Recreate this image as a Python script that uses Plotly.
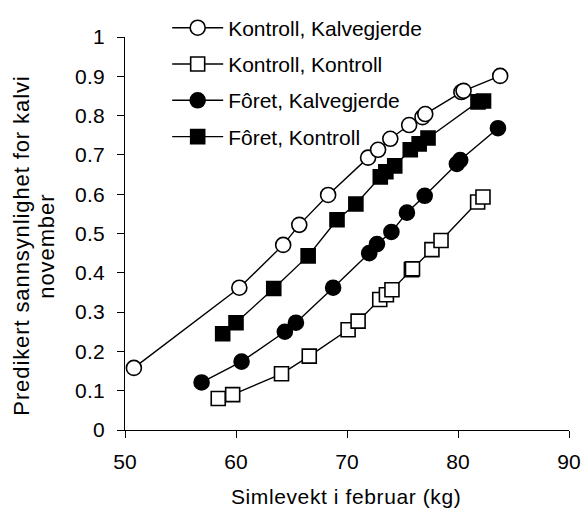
import plotly.graph_objects as go

# Kontroll, Kalvegjerde (open circles)
kk_x = [50.8, 60.3, 64.25, 65.7, 68.3, 71.9, 72.8, 73.9, 75.6, 76.8, 77.05, 80.3, 80.5, 83.8]
kk_y = [0.158, 0.362, 0.471, 0.522, 0.598, 0.693, 0.713, 0.741, 0.776, 0.796, 0.804, 0.860, 0.863, 0.901]

# Kontroll, Kontroll (open squares)
kc_x = [58.4, 59.7, 64.1, 66.6, 70.1, 71.0, 72.95, 73.55, 74.05, 75.8, 75.9, 77.65, 78.47, 81.77, 82.25]
kc_y = [0.080, 0.090, 0.143, 0.188, 0.255, 0.277, 0.332, 0.344, 0.357, 0.408, 0.410, 0.459, 0.482, 0.580, 0.593]

# Fôret, Kalvegjerde (filled circles)
fk_x = [56.9, 60.5, 64.4, 65.4, 68.75, 72.0, 72.7, 74.0, 75.4, 77.0, 79.9, 80.2, 83.6]
fk_y = [0.121, 0.174, 0.250, 0.273, 0.362, 0.450, 0.473, 0.504, 0.553, 0.596, 0.677, 0.687, 0.768]

# Fôret, Kontroll (filled squares)
fc_x = [58.8, 60.0, 63.4, 66.5, 69.1, 70.8, 73.0, 73.5, 74.3, 75.7, 76.5, 77.3, 81.8, 82.3]
fc_y = [0.245, 0.273, 0.360, 0.443, 0.535, 0.575, 0.644, 0.657, 0.672, 0.713, 0.728, 0.743, 0.835, 0.837]

series_names = ["Kontroll, Kalvegjerde", "Kontroll, Kontroll", "Fôret, Kalvegjerde", "Fôret, Kontroll"]
series_x = [kk_x, kc_x, fk_x, fc_x]
series_y = [kk_y, kc_y, fk_y, fc_y]
symbols = ["circle", "square", "circle", "square"]
fills = ["white", "white", "black", "black"]

x_ticks = [50, 60, 70, 80, 90]
y_ticks = [0, 0.1, 0.2, 0.3, 0.4, 0.5, 0.6, 0.7, 0.8, 0.9, 1]
y_labels = ["0", "0.1", "0.2", "0.3", "0.4", "0.5", "0.6", "0.7", "0.8", "0.9", "1"]

x_title = "Simlevekt i februar (kg)"
y_title_lines = ["Predikert sannsynlighet for kalvi", "november"]

FONT = "Liberation Sans, Arial, sans-serif"


def sp(text, ls):
    return f'<span style="letter-spacing:{ls}px">{text}</span>'


fig = go.Figure()
for i in range(4):
    fig.add_trace(go.Scatter(
        x=series_x[i], y=series_y[i], name=series_names[i], mode="lines+markers",
        legendgroup=f"g{i}",
        line=dict(color="black", width=1.4),
        marker=dict(symbol=symbols[i], size=15 if symbols[i] == "circle" else 14,
                    color=fills[i], line=dict(color="black", width=1.6)),
    ))

# axis titles placed as paper-anchored text
fig.add_annotation(text=sp(x_title, 0.6), xref="paper", yref="paper",
                   x=0.4977, y=-0.169, xanchor="center", yanchor="middle",
                   showarrow=False, font=dict(size=21))
fig.add_annotation(text=sp(y_title_lines[0], 0.9), xref="paper", yref="paper",
                   x=-0.232, y=0.469, xanchor="center", yanchor="middle",
                   textangle=-90, showarrow=False, font=dict(size=22))
fig.add_annotation(text=sp(y_title_lines[1], 0.9), xref="paper", yref="paper",
                   x=-0.1757, y=0.469, xanchor="center", yanchor="middle",
                   textangle=-90, showarrow=False, font=dict(size=22))

fig.update_layout(
    width=581, height=511,
    margin=dict(l=125, r=12, t=37, b=81, autoexpand=False),
    paper_bgcolor="white", plot_bgcolor="white",
    font=dict(family=FONT, size=21, color="black"),
    showlegend=True,
    legend=dict(x=0.095, y=1.075, xanchor="left", yanchor="top",
                traceorder="grouped", tracegroupgap=6,
                bgcolor="rgba(0,0,0,0)", font=dict(size=21), itemwidth=51),
    xaxis=dict(range=[50, 90], tickvals=x_ticks, ticktext=[sp(str(v), 0.2) for v in x_ticks],
               showline=True, linecolor="black", linewidth=1, ticks="outside",
               ticklen=7, tickcolor="black", showgrid=False, zeroline=False,
               ticklabelstandoff=6),
    yaxis=dict(range=[0, 1], tickvals=y_ticks, ticktext=[sp(t, 0.2) for t in y_labels],
               showline=True, linecolor="black", linewidth=1, ticks="outside",
               ticklen=7, tickcolor="black", showgrid=False, zeroline=False,
               ticklabelstandoff=8),
)

fig.write_html("out.html")
